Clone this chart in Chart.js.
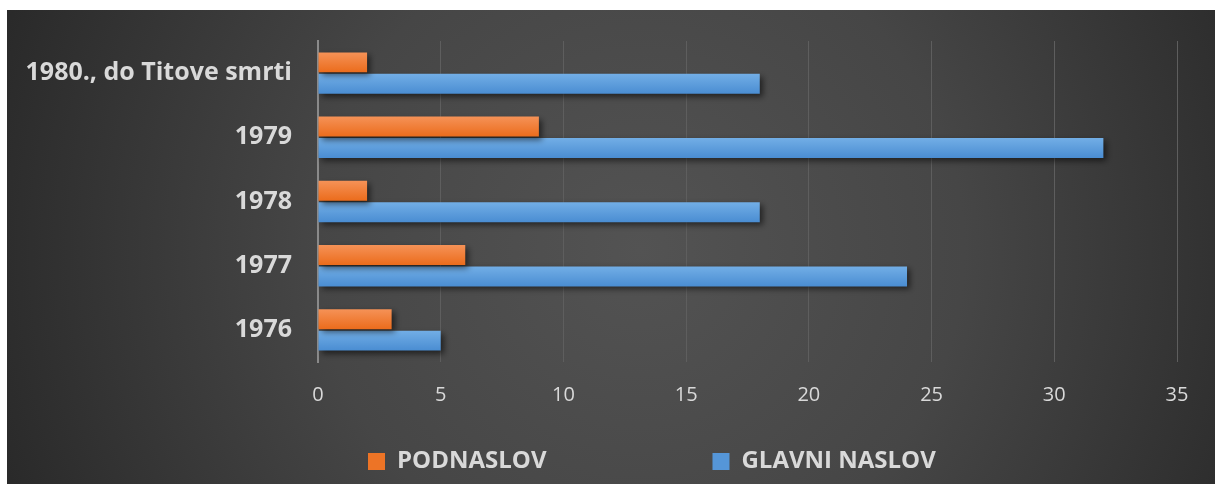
<!DOCTYPE html>
<html>
<head>
<meta charset="utf-8">
<script src="https://cdn.jsdelivr.net/npm/chart.js@4"></script>
<style>
  html, body { margin: 0; padding: 0; background: #ffffff; }
  #wrap { width: 1215px; height: 484px; position: relative; }
</style>
</head>
<body>
<div id="wrap"><canvas id="c" width="1215" height="484"></canvas></div>
<script>
const categories = ['1980., do Titove smrti', '1979', '1978', '1977', '1976'];
const podnaslov = [2, 9, 2, 6, 3];
const glavniNaslov = [18, 32, 18, 24, 5];
const seriesNames = ['PODNASLOV', 'GLAVNI NASLOV'];
const xTicks = [0, 5, 10, 15, 20, 25, 30, 35];

const CAT_PCT = 0.668;
const BAR_PCT = 0.93;
const FONT = "'Open Sans', sans-serif";
const LEGEND_PAD = 166;
const LEGEND_H = 62;
const LEGEND_START_X = 368;
const LEGEND_ROW_TOP = 449.5;

function barGradient(ctx, dsIndex, topCol, botCol) {
  const chart = ctx.chart;
  const y = chart.scales && chart.scales.y;
  if (!y || ctx.dataIndex === undefined || !chart.chartArea) return botCol;
  const c = y.getPixelForValue(ctx.dataIndex);
  const cw = Math.abs(y.getPixelForValue(1) - y.getPixelForValue(0));
  const slot = cw * CAT_PCT / 2;
  const start = c - cw * CAT_PCT / 2 + slot * dsIndex + slot * (1 - BAR_PCT) / 2;
  const end = start + slot * BAR_PCT;
  if (!isFinite(start) || !isFinite(end)) return botCol;
  const g = chart.ctx.createLinearGradient(0, start, 0, end);
  g.addColorStop(0, topCol);
  g.addColorStop(1, botCol);
  return g;
}

const bgPlugin = {
  id: 'bg',
  beforeDraw(chart) {
    const ctx = chart.ctx;
    ctx.save();
    ctx.fillStyle = '#ffffff';
    ctx.fillRect(0, 0, chart.width, chart.height);
    const g = ctx.createRadialGradient(640, 250, 0, 640, 250, 720);
    g.addColorStop(0, '#535353');
    g.addColorStop(0.45, '#464646');
    g.addColorStop(1, '#262626');
    ctx.fillStyle = g;
    ctx.fillRect(7, 10, chart.width - 7, chart.height - 10);
    ctx.restore();
  }
};

const shadowPlugin = {
  id: 'shadow',
  beforeDatasetsDraw(chart) {
    const ctx = chart.ctx;
    ctx.save();
    ctx.shadowColor = 'rgba(0,0,0,0.55)';
    ctx.shadowBlur = 6;
    ctx.shadowOffsetX = 3;
    ctx.shadowOffsetY = 3;
  },
  afterDatasetsDraw(chart) {
    chart.ctx.restore();
  }
};

// keep the wide legend item spacing without letting it eat vertical space
const legendPlacePlugin = {
  id: 'legendPlace',
  beforeLayout(chart) {
    const lg = chart.legend;
    if (lg && !lg.__patched) {
      const f = lg.fit;
      lg.fit = function () { f.call(this); this.height = LEGEND_H; };
      lg.__patched = true;
    }
  },
  afterLayout(chart) {
    const lg = chart.legend;
    if (!lg || !lg.lineWidths) return;
    const startX = (lg.left + LEGEND_PAD + lg.right - lg.lineWidths[0]) / 2;
    const d = LEGEND_START_X - startX;
    lg.left += d;
    lg.right += d;
    lg.top = LEGEND_ROW_TOP - LEGEND_PAD;
    lg.bottom = chart.height;
  }
};

const solidColors = ['#ed7426', '#5596d8'];

new Chart(document.getElementById('c'), {
  type: 'bar',
  data: {
    labels: categories,
    datasets: [
      {
        label: seriesNames[0],
        data: podnaslov,
        backgroundColor: (ctx) => barGradient(ctx, 0, '#f59257', '#eb6c1c'),
        borderWidth: 0,
        categoryPercentage: CAT_PCT,
        barPercentage: BAR_PCT
      },
      {
        label: seriesNames[1],
        data: glavniNaslov,
        backgroundColor: (ctx) => barGradient(ctx, 1, '#72aee6', '#4a8dd2'),
        borderWidth: 0,
        categoryPercentage: CAT_PCT,
        barPercentage: BAR_PCT
      }
    ]
  },
  options: {
    indexAxis: 'y',
    responsive: false,
    animation: false,
    layout: { padding: { left: 7, top: 40, right: 38, bottom: 0 } },
    scales: {
      x: {
        min: 0,
        max: 35,
        afterBuildTicks(scale) { scale.ticks = xTicks.map(v => ({ value: v })); },
        grid: { color: '#5e5e5e', lineWidth: 1, drawTicks: false },
        border: { display: false },
        ticks: {
          color: '#d9d9d9',
          font: { family: FONT, size: 20 },
          padding: 21
        },
        afterFit(scale) { scale.height = 60; }
      },
      y: {
        grid: { display: false, drawTicks: false },
        border: { display: true, color: '#8a8a8a', width: 2 },
        ticks: {
          color: '#d9d9d9',
          font: { family: FONT, size: 25, weight: 'bold' },
          padding: 26
        },
        afterFit(scale) { scale.width = 311; }
      }
    },
    plugins: {
      legend: {
        position: 'bottom',
        labels: {
          color: '#d9d9d9',
          font: { family: FONT, size: 24, weight: 'bold' },
          boxWidth: 17,
          boxHeight: 17,
          padding: LEGEND_PAD,
          generateLabels(chart) {
            return chart.data.datasets.map((ds, i) => ({
              text: ds.label,
              fillStyle: solidColors[i],
              strokeStyle: solidColors[i],
              lineWidth: 0,
              hidden: !chart.isDatasetVisible(i),
              datasetIndex: i,
              fontColor: '#d9d9d9'
            }));
          }
        }
      },
      tooltip: { enabled: false }
    }
  },
  plugins: [bgPlugin, shadowPlugin, legendPlacePlugin]
});
</script>
</body>
</html>
